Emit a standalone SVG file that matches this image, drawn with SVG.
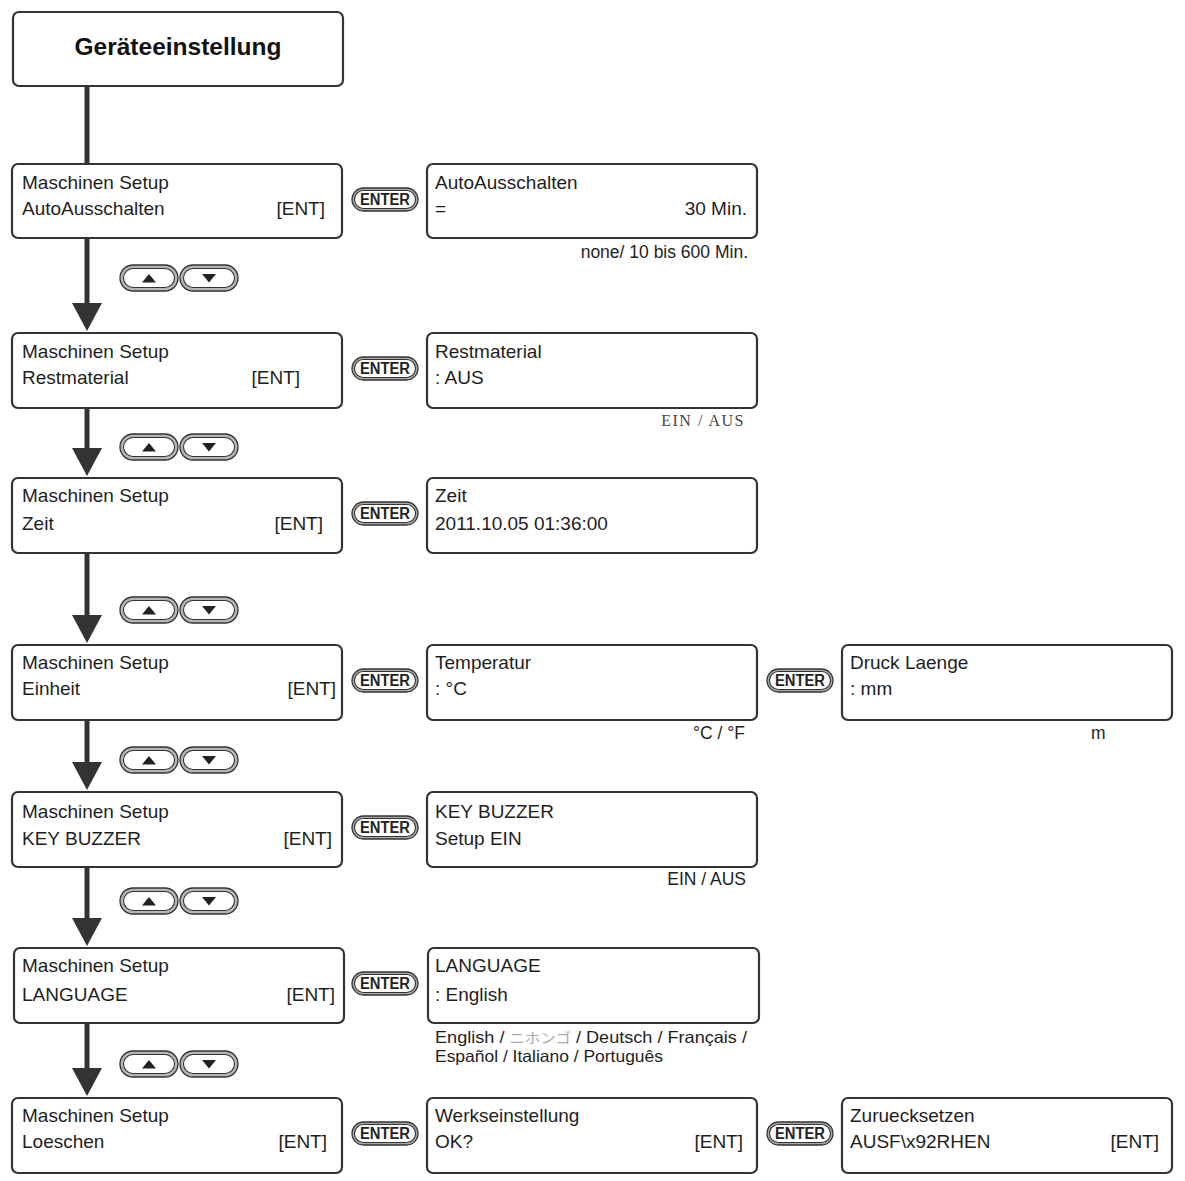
<svg xmlns="http://www.w3.org/2000/svg" width="1185" height="1181" viewBox="0 0 1185 1181">
<style>
.box{fill:#fff;stroke:#333;stroke-width:2.2}
.t{font-family:"Liberation Sans",Arial,sans-serif;font-size:19px;fill:#1e1e1e}
.n{font-family:"Liberation Sans",Arial,sans-serif;font-size:17.5px;fill:#1e1e1e}
.lang{font-family:"Liberation Sans",Arial,sans-serif;font-size:16.5px;fill:#1e1e1e}
.s{font-family:"Liberation Serif","Times New Roman",serif;font-size:16px;fill:#444;letter-spacing:1.5px}
.title{font-family:"Liberation Sans",Arial,sans-serif;font-size:24.5px;font-weight:bold;fill:#111}
.e{text-anchor:end}
.conn{stroke:#333;stroke-width:5;fill:none}
.head{fill:#333}
.btn-o{fill:#a8a8a8;stroke:#333;stroke-width:1.3}
.btn-i{fill:#fff;stroke:#333;stroke-width:1.1}
.btn-t{font-family:"Liberation Sans",Arial,sans-serif;font-size:16px;font-weight:bold;fill:#222;text-anchor:middle}
</style>
<defs>
<g id="enter">
<rect class="btn-o" x="0" y="0" width="66" height="23" rx="11.5"/>
<rect class="btn-i" x="2.5" y="2.5" width="61" height="18" rx="9"/>
<text class="btn-t" x="33" y="17.3" textLength="50" lengthAdjust="spacingAndGlyphs">ENTER</text>
</g>
<g id="updown">
<rect class="btn-o" x="0" y="0" width="58" height="26" rx="13" style="fill:#b5b5b5"/>
<rect class="btn-i" x="3.5" y="3.5" width="51" height="19" rx="9.5"/>
<path d="M22 17.5 L29 9 L36 17.5 Z" fill="#222"/>
<rect class="btn-o" x="60" y="0" width="58" height="26" rx="13" style="fill:#b5b5b5"/>
<rect class="btn-i" x="63.5" y="3.5" width="51" height="19" rx="9.5"/>
<path d="M82 9 L96 9 L89 17.5 Z" fill="#222"/>
</g>
</defs>
<rect width="1185" height="1181" fill="#fff"/>

<g id="connectors">
<line class="conn" x1="87" y1="86" x2="87" y2="164"/>
<line class="conn" x1="87" y1="238" x2="87" y2="305"/>
<path class="head" d="M72 303 L102 303 L87 331 Z"/>
<line class="conn" x1="87" y1="408" x2="87" y2="450"/>
<path class="head" d="M72 448 L102 448 L87 476 Z"/>
<line class="conn" x1="87" y1="553" x2="87" y2="617"/>
<path class="head" d="M72 615 L102 615 L87 643 Z"/>
<line class="conn" x1="87" y1="720" x2="87" y2="764"/>
<path class="head" d="M72 762 L102 762 L87 790 Z"/>
<line class="conn" x1="87" y1="867" x2="87" y2="920"/>
<path class="head" d="M72 918 L102 918 L87 946 Z"/>
<line class="conn" x1="87" y1="1023" x2="87" y2="1070"/>
<path class="head" d="M72 1068 L102 1068 L87 1096 Z"/>
<use href="#updown" x="120" y="265"/>
<use href="#updown" x="120" y="434"/>
<use href="#updown" x="120" y="597"/>
<use href="#updown" x="120" y="747"/>
<use href="#updown" x="120" y="888"/>
<use href="#updown" x="120" y="1051"/>
<use href="#enter" x="352" y="188"/>
<use href="#enter" x="352" y="357"/>
<use href="#enter" x="352" y="502"/>
<use href="#enter" x="352" y="669"/>
<use href="#enter" x="767" y="669"/>
<use href="#enter" x="352" y="816"/>
<use href="#enter" x="352" y="972"/>
<use href="#enter" x="352" y="1122"/>
<use href="#enter" x="767" y="1122"/>
</g>

<g id="title">
<rect class="box" x="13" y="12" width="330" height="74" rx="6"/>
<text class="title" x="178" y="55" text-anchor="middle">Geräteeinstellung</text>
</g>

<g id="m1">
<rect class="box" x="12" y="164" width="330" height="74" rx="6"/>
<text class="t" x="22" y="189">Maschinen Setup</text>
<text class="t" x="22" y="215">AutoAusschalten</text>
<text class="t e" x="325" y="215">[ENT]</text>
</g>
<g id="r1">
<rect class="box" x="427" y="164" width="330" height="74" rx="6"/>
<text class="t" x="435" y="189">AutoAusschalten</text>
<text class="t" x="435" y="215">=</text>
<text class="t e" x="747" y="215">30 Min.</text>
<text class="n e" x="748" y="258">none/ 10 bis 600 Min.</text>
</g>

<g id="m2">
<rect class="box" x="12" y="333" width="330" height="75" rx="6"/>
<text class="t" x="22" y="358">Maschinen Setup</text>
<text class="t" x="22" y="384">Restmaterial</text>
<text class="t e" x="300" y="384">[ENT]</text>
</g>
<g id="r2">
<rect class="box" x="427" y="333" width="330" height="75" rx="6"/>
<text class="t" x="435" y="358">Restmaterial</text>
<text class="t" x="435" y="384">: AUS</text>
<text class="s e" x="745" y="426">EIN / AUS</text>
</g>

<g id="m3">
<rect class="box" x="12" y="478" width="330" height="75" rx="6"/>
<text class="t" x="22" y="502">Maschinen Setup</text>
<text class="t" x="22" y="530">Zeit</text>
<text class="t e" x="323" y="530">[ENT]</text>
</g>
<g id="r3">
<rect class="box" x="427" y="478" width="330" height="75" rx="6"/>
<text class="t" x="435" y="502">Zeit</text>
<text class="t" x="435" y="530">2011.10.05 01:36:00</text>
</g>

<g id="m4">
<rect class="box" x="12" y="645" width="330" height="75" rx="6"/>
<text class="t" x="22" y="669">Maschinen Setup</text>
<text class="t" x="22" y="695">Einheit</text>
<text class="t e" x="336" y="695">[ENT]</text>
</g>
<g id="r4">
<rect class="box" x="427" y="645" width="330" height="75" rx="6"/>
<text class="t" x="435" y="669">Temperatur</text>
<text class="t" x="435" y="695">: °C</text>
<text class="n e" x="745" y="739">°C / °F</text>
</g>
<g id="r4b">
<rect class="box" x="842" y="645" width="330" height="75" rx="6"/>
<text class="t" x="850" y="669">Druck Laenge</text>
<text class="t" x="850" y="695">: mm</text>
<text class="n" x="1091" y="739">m</text>
</g>

<g id="m5">
<rect class="box" x="12" y="792" width="330" height="75" rx="6"/>
<text class="t" x="22" y="818">Maschinen Setup</text>
<text class="t" x="22" y="845">KEY BUZZER</text>
<text class="t e" x="332" y="845">[ENT]</text>
</g>
<g id="r5">
<rect class="box" x="427" y="792" width="330" height="75" rx="6"/>
<text class="t" x="435" y="818">KEY BUZZER</text>
<text class="t" x="435" y="845">Setup EIN</text>
<text class="n e" x="746" y="885">EIN / AUS</text>
</g>

<g id="m6">
<rect class="box" x="14" y="948" width="330" height="75" rx="6"/>
<text class="t" x="22" y="972">Maschinen Setup</text>
<text class="t" x="22" y="1001">LANGUAGE</text>
<text class="t e" x="335" y="1001">[ENT]</text>
</g>
<g id="r6">
<rect class="box" x="428" y="948" width="331" height="75" rx="6"/>
<text class="t" x="435" y="972">LANGUAGE</text>
<text class="t" x="435" y="1001">: English</text>
<text class="lang" x="435" y="1043" textLength="312" lengthAdjust="spacingAndGlyphs">English / <tspan style="fill:#aaa;font-family:'Noto Sans CJK JP',sans-serif;font-size:14px">ニホンゴ</tspan> / Deutsch / Français /</text>
<text class="lang" x="435" y="1062" textLength="228" lengthAdjust="spacingAndGlyphs">Español / Italiano / Português</text>
</g>

<g id="m7">
<rect class="box" x="12" y="1098" width="330" height="75" rx="6"/>
<text class="t" x="22" y="1122">Maschinen Setup</text>
<text class="t" x="22" y="1148">Loeschen</text>
<text class="t e" x="327" y="1148">[ENT]</text>
</g>
<g id="r7">
<rect class="box" x="427" y="1098" width="330" height="75" rx="6"/>
<text class="t" x="435" y="1122">Werkseinstellung</text>
<text class="t" x="435" y="1148">OK?</text>
<text class="t e" x="743" y="1148">[ENT]</text>
</g>
<g id="r7b">
<rect class="box" x="842" y="1098" width="330" height="75" rx="6"/>
<text class="t" x="850" y="1122">Zuruecksetzen</text>
<text class="t" x="850" y="1148">AUSF\x92RHEN</text>
<text class="t e" x="1159" y="1148">[ENT]</text>
</g>
</svg>
